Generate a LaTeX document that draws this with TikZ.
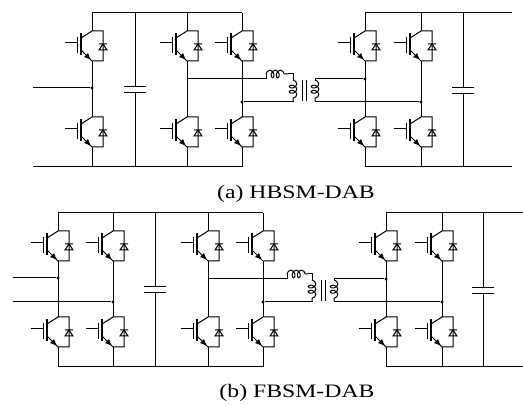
\documentclass[tikz,border=0pt]{standalone}
\usepackage{fontspec}
\setmainfont{Liberation Serif}
\usetikzlibrary{arrows.meta,decorations.pathmorphing}

\begin{document}
\begin{tikzpicture}[x=1pt, y=-1pt, line width=1pt,
  sw/.pic={
    \draw (-27,12) -- (-15,12) (-15,6) -- (-15,22);
    \draw[line width=1.5pt] (-11,2) -- (-11,24);
    \draw (-11,7) -- (0,0) -- (11,0) -- (11,30) -- (0,30) -- (-2,28);
    \draw[-{Latex[length=7pt,width=6pt]}] (-11,19) -- (-1,29);
    \draw (7,19) -- (15,19) -- (11,13) -- cycle (7,13) -- (15,13);
  },
  capa/.pic={\draw (-11,-3) -- (11,-3) (-11,3) -- (11,3);},
  dot/.style={circle, fill, inner sep=0pt, minimum size=3.4pt},
  winding/.style={decorate, decoration={coil, aspect=0.7, segment length=5.2pt, amplitude=3.8pt}},
  label/.style={font=\fontsize{19}{21}\selectfont, xscale=1.25, anchor=base}]
  \useasboundingbox (0,0) rectangle (523,406);

  % (a) HBSM-DAB
  \foreach \x in {92,187,242,365,421} {
    \pic at (\x,31) {sw};
    \pic at (\x,117) {sw};
    \draw (\x,13) -- (\x,31) (\x,61) -- (\x,117) (\x,147) -- (\x,167);
  }
  \coordinate (inA) at (33,88);
  \coordinate (botA) at (33,167);
  \node[dot] (midA) at (92,88) {};
  \coordinate (legA2) at (187,79);
  \node[dot] (legA3) at (242,102) {};
  \node[dot] (legA4) at (365,79) {};
  \node[dot] (legA5) at (421,102) {};
  \draw (92,13) -- (242,13) (botA) -- (242,167);
  \draw (365,13) -- (512,13) (365,167) -- (512,167);
  \draw (inA) -- (midA);
  \draw (135,13) -- (135,87) (135,93) -- (135,167);
  \pic at (135,90) {capa};
  \draw (463,13) -- (463,88) (463,94) -- (463,167);
  \pic at (463,91) {capa};
  \coordinate (LsA) at (266,74);
  \coordinate (LeA) at (288,74);
  \draw (legA2) -- (266,79) -- (LsA);
  \draw[winding] (LsA) -- (LeA);
  \draw (LeA) -- (293,74) -- (293,80);
  \draw[winding] (293,80) -- (293,101);
  \draw (293,101) -- (293,102) -- (legA3);
  \draw (302,80) -- (302,101) (306,80) -- (306,101);
  \draw[winding] (315,80) -- (315,101);
  \draw (315,80) -- (315,79) -- (legA4);
  \draw (315,101) -- (315,102) -- (legA5);
  \node[label] (capA) at (296,199) {(a) HBSM-DAB};

  % (b) FBSM-DAB
  \foreach \x in {58,113,208,263,386,442} {
    \pic at (\x,231) {sw};
    \pic at (\x,317) {sw};
    \draw (\x,213) -- (\x,231) (\x,261) -- (\x,317) (\x,347) -- (\x,367);
  }
  \coordinate (inB1) at (13,278);
  \coordinate (inB2) at (13,302);
  \node[dot] (legB1) at (58,278) {};
  \node[dot] (legB2) at (113,302) {};
  \coordinate (legB3) at (208,279);
  \node[dot] (legB4) at (263,302) {};
  \node[dot] (legB5) at (386,279) {};
  \node[dot] (legB6) at (442,302) {};
  \draw (58,213) -- (263,213) (58,367) -- (263,367);
  \draw (386,213) -- (523,213) (386,367) -- (523,367);
  \draw (inB1) -- (legB1);
  \draw (inB2) -- (legB2);
  \draw (155,213) -- (155,287) (155,293) -- (155,367);
  \pic at (155,290) {capa};
  \draw (483,213) -- (483,288) (483,294) -- (483,367);
  \pic at (483,291) {capa};
  \coordinate (LsB) at (287,274);
  \coordinate (LeB) at (308,274);
  \draw (legB3) -- (287,279) -- (LsB);
  \draw[winding] (LsB) -- (LeB);
  \draw (LeB) -- (312,274) -- (312,280);
  \draw[winding] (312,280) -- (312,301);
  \draw (312,301) -- (312,302) -- (legB4);
  \draw (321,280) -- (321,301) (325,280) -- (325,301);
  \draw[winding] (334,280) -- (334,301);
  \draw (334,280) -- (334,279) -- (legB5);
  \draw (334,301) -- (334,302) -- (legB6);
  \node[label] (capB) at (297,398) {(b) FBSM-DAB};
\end{tikzpicture}
\end{document}
